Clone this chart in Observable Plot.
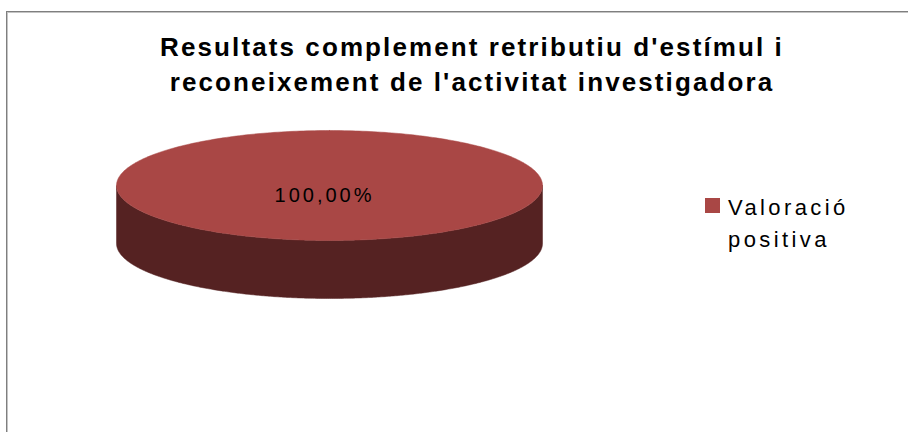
<!DOCTYPE html>
<html>
<head>
<meta charset="utf-8">
<script src="https://cdn.jsdelivr.net/npm/d3@7"></script>
<script src="https://cdn.jsdelivr.net/npm/@observablehq/plot@0.6"></script>
<style>
  html, body { margin: 0; padding: 0; background: #fff; }
  #wrap { position: relative; width: 908px; height: 432px; overflow: hidden; font-family: "Liberation Sans", Arial, sans-serif; }
  #frame { position: absolute; left: 6px; top: 11px; width: 1000px; height: 1000px; border-left: 1px solid #7f7f7f; border-top: 1px solid #7f7f7f; box-shadow: inset 1px 1px 0 #c4c4c4; }
  #title { position: absolute; left: 0; width: 944px; top: 30px; text-align: center; font-weight: bold; font-size: 26px; line-height: 35px; color: #000; letter-spacing: 2.1px; white-space: nowrap; }
  #legend { position: absolute; left: 705px; top: 192px; font-size: 22px; line-height: 32px; letter-spacing: 3.4px; color: #000; }
  #legend .sw { position: absolute; left: 0; top: 6px; width: 15px; height: 15px; }
  #legend .tx { position: absolute; left: 23px; top: 0; white-space: nowrap; }
  #chart { position: absolute; left: 0; top: 0; }
  #chart svg text { letter-spacing: 3px; }
</style>
</head>
<body>
<div id="wrap">
  <div id="frame"></div>
  <div id="chart"></div>
  <div id="title"></div>
  <div id="legend"></div>
</div>
<script>
const titleLines = ["Resultats complement retributiu d'estímul i", "reconeixement de l'activitat investigadora"];
const categories = ["Valoració positiva"];
const legendLines = [["Valoració", "positiva"]];
const values = [100];
const valueLabels = ["100,00%"];

const topColors = ["#A94745"];
const sideColors = ["#552222"];
const tilt = 55 / 213;
const depth = 58 / 213;

document.getElementById("title").innerHTML = titleLines.join("<br>");

const arcs = d3.pie().sort(null).value(d => d)(values);
const topPts = [], sidePts = [], labelPts = [];
arcs.forEach((a, i) => {
  const n = 360;
  if (a.endAngle - a.startAngle < 2 * Math.PI - 1e-9) topPts.push({id: i, x: 0, y: 0});
  for (let k = 0; k <= n; k++) {
    const t = a.startAngle + (a.endAngle - a.startAngle) * k / n;
    topPts.push({id: i, x: Math.sin(t), y: Math.cos(t) * tilt});
  }
  const s = Math.max(a.startAngle, Math.PI / 2), e = Math.min(a.endAngle, 3 * Math.PI / 2);
  if (e > s) {
    const edge = [];
    for (let k = 0; k <= n; k++) {
      const t = s + (e - s) * k / n;
      edge.push([Math.sin(t), Math.cos(t) * tilt]);
    }
    edge.forEach(([x, y]) => sidePts.push({id: i, x, y}));
    edge.slice().reverse().forEach(([x, y]) => sidePts.push({id: i, x, y: y - depth}));
  }
  const full = a.endAngle - a.startAngle >= 2 * Math.PI - 1e-9;
  const mid = (a.startAngle + a.endAngle) / 2;
  const r = full ? 0 : 0.6;
  labelPts.push({x: Math.sin(mid) * r, y: Math.cos(mid) * r * tilt, label: valueLabels[i]});
});

const plot = Plot.plot({
  width: 908, height: 432,
  margin: 0,
  x: {domain: [-1, 1], range: [116, 542], axis: null},
  y: {domain: [-1, 1], range: [185 + 213, 185 - 213], axis: null},
  marks: [
    Plot.line(sidePts, {x: "x", y: "y", z: "id", fill: d => sideColors[d.id], stroke: d => sideColors[d.id], strokeWidth: 0.5, curve: "linear-closed"}),
    Plot.line(topPts, {x: "x", y: "y", z: "id", fill: d => topColors[d.id], stroke: d => topColors[d.id], strokeWidth: 0.5, curve: "linear-closed"}),
    Plot.text(labelPts, {x: "x", y: "y", text: "label", dx: -5, dy: 10, fontSize: 20, fill: "#000", fontFamily: "Liberation Sans, Arial, sans-serif"})
  ]
});
document.getElementById("chart").appendChild(plot);

const lg = document.getElementById("legend");
categories.forEach((c, i) => {
  const sw = document.createElement("div");
  sw.className = "sw"; sw.style.background = topColors[i];
  sw.title = c;
  const tx = document.createElement("div");
  tx.className = "tx"; tx.innerHTML = legendLines[i].join("<br>");
  lg.appendChild(sw); lg.appendChild(tx);
});
</script>
</body>
</html>
